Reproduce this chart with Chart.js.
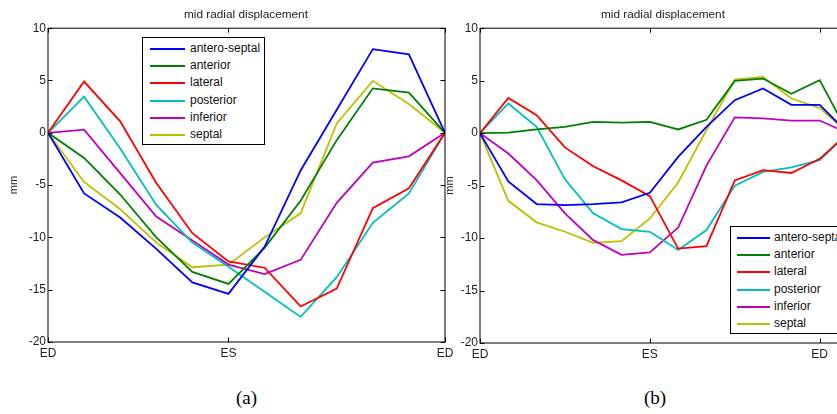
<!DOCTYPE html>
<html>
<head>
<meta charset="utf-8">
<script src="https://cdn.jsdelivr.net/npm/chart.js@4.4.1/dist/chart.umd.min.js"></script>
<style>
  html, body { margin: 0; padding: 0; background: #fff; width: 837px; height: 414px; overflow: hidden; }
  #wrap { position: relative; width: 837px; height: 414px; overflow: hidden; }
  canvas { position: absolute; top: 0; }
  .legend { position: absolute; background: #fff; border: 1px solid #000; box-sizing: border-box;
            font-family: "Liberation Sans", Arial, sans-serif; font-size: 12px; color: #111; z-index: 2; }
  .legend .row { position: absolute; left: 0; height: 17px; line-height: 17px; white-space: nowrap; }
  .legend .sw { position: absolute; top: 8px; height: 2px; }
  .legend .tx { position: absolute; top: 0; }
  .ttl { position: absolute; top: 6px; width: 240px; text-align: center; font-family: "Liberation Sans", Arial, sans-serif;
         font-size: 11.8px; line-height: 16px; color: #222; white-space: nowrap; }
  .cap { position: absolute; font-family: "Liberation Serif", "Times New Roman", serif; font-size: 19px; color: #000; }
</style>
</head>
<body>
<div id="wrap">
  <canvas id="chartA" width="460" height="362" style="left:0px"></canvas>
  <canvas id="chartB" width="430" height="363" style="left:436px"></canvas>
  <div class="ttl" style="left:126px;">mid radial displacement</div>
  <div class="ttl" style="left:543px;">mid radial displacement</div>
  <div id="legendA" class="legend" style="left:142px; top:37px; width:123px; height:108px;"></div>
  <div id="legendB" class="legend" style="left:730px; top:226px; width:140px; height:108px;"></div>
  <div class="cap" style="left:236px; top:387px;">(a)</div>
  <div class="cap" style="left:644px; top:387px;">(b)</div>
</div>
<script>
// segment names (legend order)
var segments = ["antero-septal", "anterior", "lateral", "posterior", "inferior", "septal"];

// y axis ticks (mm)
var mmTicks = [10, 5, 0, -5, -10, -15, -20];

// cardiac phase ticks
var phaseLabels = ["ED", "ES", "ED"];
var phaseTicksA = [0, 5, 11];
var phaseTicksB = [0, 6, 12];

// (a) mid radial displacement, frames 0..11
var anteroSeptalA = [0, -5.8, -8.1, -11.1, -14.3, -15.4, -10.9, -3.6, 2.2, 8.0, 7.5, 0];
var anteriorA     = [0, -2.4, -5.9, -10.0, -13.3, -14.45, -11.0, -6.5, -0.7, 4.25, 3.85, 0];
var lateralA      = [0, 4.9, 1.1, -4.8, -9.6, -12.3, -12.9, -16.6, -14.9, -7.2, -5.3, 0];
var posteriorA    = [0, 3.45, -1.5, -6.9, -10.5, -12.8, -15.2, -17.6, -13.8, -8.6, -5.8, 0];
var inferiorA     = [0, 0.3, -3.85, -8.0, -10.3, -12.6, -13.5, -12.15, -6.7, -2.85, -2.25, 0];
var septalA       = [0, -4.7, -7.3, -10.5, -12.85, -12.6, -10.0, -7.7, 0.9, 4.97, 2.75, 0];

// (b) mid radial displacement, frames 0..13
var anteroSeptalB = [0, -4.6, -6.76, -6.86, -6.76, -6.6, -5.68, -2.26, 0.6, 3.14, 4.25, 2.7, 2.7, 0];
var anteriorB     = [0, 0.05, 0.35, 0.6, 1.08, 1.0, 1.08, 0.35, 1.27, 4.98, 5.2, 3.75, 5.05, 0];
var lateralB      = [0, 3.36, 1.71, -1.36, -3.15, -4.5, -6.0, -11.0, -10.76, -4.5, -3.52, -3.8, -2.45, 0];
var posteriorB    = [0, 2.83, 0.6, -4.4, -7.65, -9.15, -9.4, -11.14, -9.24, -5.0, -3.7, -3.27, -2.57, 0];
var inferiorB     = [0, -1.94, -4.48, -7.65, -10.2, -11.6, -11.36, -9.0, -3.1, 1.5, 1.4, 1.2, 1.2, 0];
var septalB       = [0, -6.45, -8.5, -9.4, -10.45, -10.3, -8.13, -4.7, 0.3, 5.1, 5.35, 3.3, 2.4, 0];

var colors = ["#0000ff", "#008000", "#ff0000", "#00bfbf", "#bf00bf", "#bfbf00"];

Chart.defaults.font.family = '"Liberation Sans", Arial, sans-serif';
Chart.defaults.color = "#222";

// matlab style box with inward ticks
var boxPlugin = {
  id: "box",
  afterDraw: function (chart) {
    var ctx = chart.ctx, a = chart.chartArea;
    var xs = chart.scales.x, ys = chart.scales.y, tl = 4.5;
    ctx.save();
    ctx.strokeStyle = "#000";
    ctx.lineWidth = 1;
    ctx.strokeRect(a.left, a.top, a.right - a.left, a.bottom - a.top);
    ctx.beginPath();
    ys.ticks.forEach(function (t) {
      var y = Math.round(ys.getPixelForValue(t.value)) + 0.5;
      ctx.moveTo(a.left, y); ctx.lineTo(a.left + tl, y);
      ctx.moveTo(a.right, y); ctx.lineTo(a.right - tl, y);
    });
    xs.ticks.forEach(function (t) {
      var x = Math.round(xs.getPixelForValue(t.value)) + 0.5;
      ctx.moveTo(x, a.bottom); ctx.lineTo(x, a.bottom - tl);
      ctx.moveTo(x, a.top); ctx.lineTo(x, a.top + tl);
    });
    ctx.stroke();
    ctx.restore();
  }
};

function makeChart(id, series, phaseTicks, xMax, yWidth, xHeight, padRight) {
  return new Chart(document.getElementById(id), {
    type: "line",
    data: {
      datasets: series.map(function (s, k) {
        return {
          label: segments[k],
          data: s.map(function (v, i) { return { x: i, y: v }; }),
          borderColor: colors[k],
          backgroundColor: colors[k],
          borderWidth: 1.8,
          pointRadius: 0,
          tension: 0
        };
      })
    },
    options: {
      responsive: false,
      animation: false,
      layout: { padding: { left: 0, right: padRight, top: 28.2, bottom: 0 } },
      plugins: {
        legend: { display: false },
        tooltip: { enabled: false },
        title: { display: false }
      },
      scales: {
        x: {
          type: "linear",
          min: 0,
          max: xMax,
          grid: { display: false, drawTicks: false },
          border: { display: false },
          afterBuildTicks: function (s) { s.ticks = phaseTicks.map(function (v) { return { value: v }; }); },
          afterFit: function (s) { s.height = xHeight; },
          ticks: {
            font: { size: 12 },
            padding: 4,
            maxRotation: 0,
            callback: function (v, i) { return phaseLabels[i]; }
          }
        },
        y: {
          min: -20,
          max: 10,
          grid: { display: false, drawTicks: false },
          border: { display: false },
          afterBuildTicks: function (s) { s.ticks = mmTicks.map(function (v) { return { value: v }; }); },
          afterFit: function (s) { s.width = yWidth; },
          ticks: { font: { size: 12 }, padding: 2 },
          title: { display: true, text: "mm", font: { size: 11 }, padding: { top: 7, bottom: 0 }, color: "#222" }
        }
      }
    },
    plugins: [boxPlugin]
  });
}

makeChart("chartA", [anteroSeptalA, anteriorA, lateralA, posteriorA, inferiorA, septalA], phaseTicksA, 11, 48, 20, 15);
makeChart("chartB", [anteroSeptalB, anteriorB, lateralB, posteriorB, inferiorB, septalB], phaseTicksB, 13, 44, 20, 18);

function buildLegend(id, swLeft, swWidth, txLeft) {
  var box = document.getElementById(id);
  segments.forEach(function (name, k) {
    var row = document.createElement("div");
    row.className = "row";
    row.style.top = (1.8 + k * 17.3) + "px";
    row.style.width = "100%";
    var sw = document.createElement("div");
    sw.className = "sw";
    sw.style.left = swLeft + "px";
    sw.style.width = swWidth + "px";
    sw.style.background = colors[k];
    var tx = document.createElement("span");
    tx.className = "tx";
    tx.style.left = txLeft + "px";
    tx.textContent = name;
    row.appendChild(sw);
    row.appendChild(tx);
    box.appendChild(row);
  });
}
buildLegend("legendA", 7, 35, 47);
buildLegend("legendB", 6, 33, 43);
</script>
</body>
</html>
